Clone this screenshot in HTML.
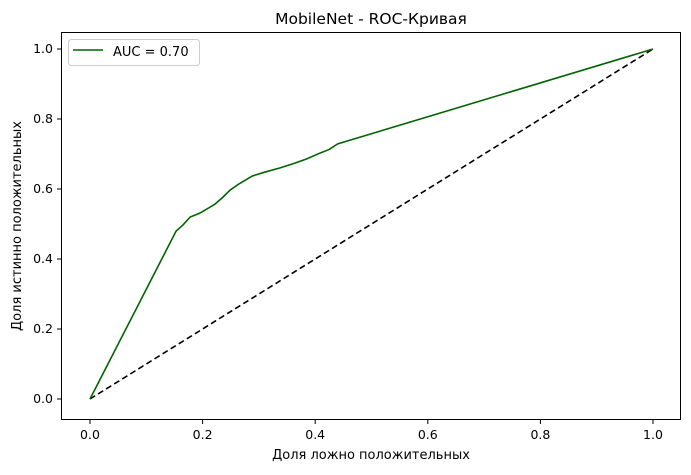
<!DOCTYPE html>
<html><head><meta charset="utf-8"><style>
body{margin:0;background:#fff;}
text{font-family:"DejaVu Sans","Liberation Sans",sans-serif;}
</style></head><body>
<svg width="691" height="470" id="chart">
<rect x="0" y="0" width="691" height="470" fill="#fff"/>
<text x="371" y="24" font-size="15.5" text-anchor="middle">MobileNet - ROC-Кривая</text>
<text x="371" y="459" font-size="13" text-anchor="middle">Доля ложно положительных</text>
<text transform="translate(21,226) rotate(-90)" font-size="13" text-anchor="middle">Доля истинно положительных</text>
<g id="ticks"></g>
<line id="diag" stroke="#000" stroke-width="1.6" stroke-dasharray="6,3.5"/>
<polyline id="roc" fill="none" stroke="#006400" stroke-width="1.6"/>
<rect x="61.5" y="32.5" width="619" height="387" fill="none" stroke="#000" stroke-width="1"/>
<g>
<rect x="68.5" y="39.5" width="131" height="26" rx="3" fill="#fff" stroke="#ccc" stroke-width="1"/>
<line x1="73" y1="50" x2="103" y2="50" stroke="#006400" stroke-width="1.6"/>
<text x="113" y="56" font-size="13">AUC = 0.70</text>
</g>
</svg>
<script>
const fpr=[0,0.153,0.165,0.178,0.195,0.21,0.222,0.235,0.249,0.265,0.288,0.31,0.337,0.364,0.385,0.409,0.425,0.44,1];
const tpr=[0,0.48,0.497,0.52,0.531,0.545,0.557,0.575,0.597,0.615,0.637,0.648,0.66,0.674,0.686,0.703,0.713,0.729,1];
const xTicks=[0,0.2,0.4,0.6,0.8,1.0];
const yTicks=[0,0.2,0.4,0.6,0.8,1.0];
const sx=v=>90+v*563, sy=v=>399-v*350;
const NS="http://www.w3.org/2000/svg";
const g=document.getElementById('ticks');
xTicks.forEach(t=>{
 const l=document.createElementNS(NS,'line');
 l.setAttribute('x1',sx(t));l.setAttribute('x2',sx(t));l.setAttribute('y1',420);l.setAttribute('y2',424);l.setAttribute('stroke','#000');
 
 
 g.appendChild(l);
 const tx=document.createElementNS(NS,'text');
 tx.setAttribute('x',sx(t));tx.setAttribute('y',439);tx.setAttribute('font-size','12.5');tx.setAttribute('text-anchor','middle');
 tx.textContent=t.toFixed(1);
 
 
 g.appendChild(tx);
});
yTicks.forEach(t=>{
 const l=document.createElementNS(NS,'line');
 l.setAttribute('x1',57);l.setAttribute('x2',61);l.setAttribute('y1',sy(t));l.setAttribute('y2',sy(t));l.setAttribute('stroke','#000');
 
 
 g.appendChild(l);
 const tx=document.createElementNS(NS,'text');
 tx.setAttribute('x',53);tx.setAttribute('y',sy(t)+4);tx.setAttribute('font-size','12.5');tx.setAttribute('text-anchor','end');
 tx.textContent=t.toFixed(1);
 
 
 g.appendChild(tx);
});
const d=document.getElementById('diag');
d.setAttribute('x1',sx(0));d.setAttribute('y1',sy(0));d.setAttribute('x2',sx(1));d.setAttribute('y2',sy(1));
document.getElementById('roc').setAttribute('points',fpr.map((f,i)=>sx(f)+','+sy(tpr[i])).join(' '));
</script>
</body></html>
